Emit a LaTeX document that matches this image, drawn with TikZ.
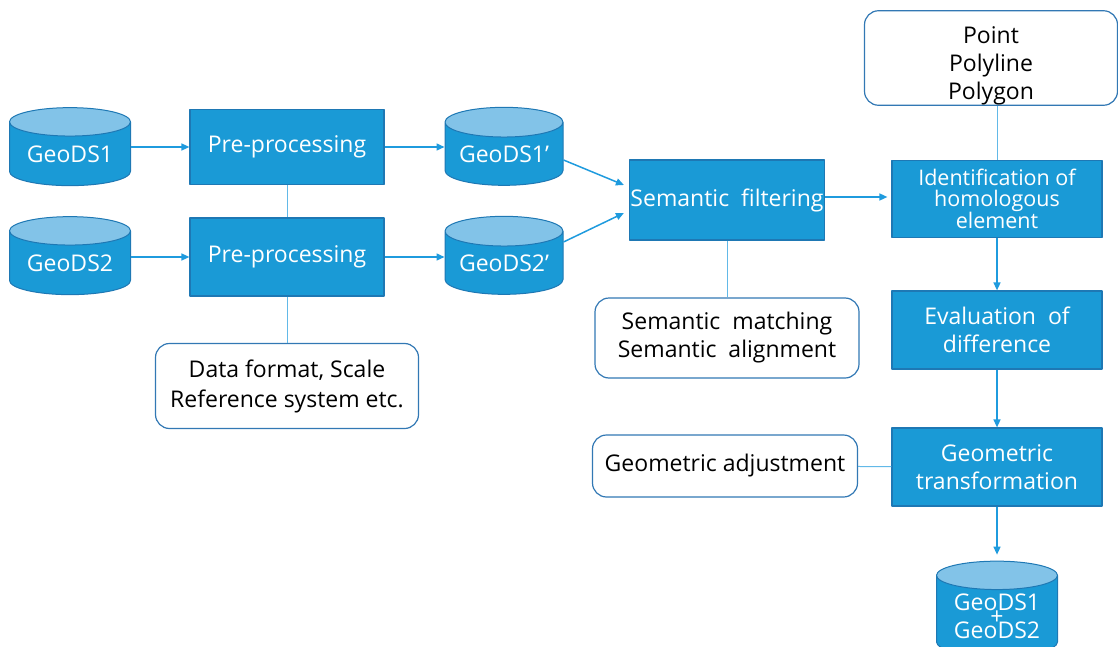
\documentclass[tikz,border=0pt]{standalone}
\usepackage{fontspec}
\setmainfont{Open Sans}
\usetikzlibrary{shapes.geometric,arrows.meta}
\definecolor{boxblue}{RGB}{26,154,214}
\definecolor{edgeblue}{RGB}{30,120,180}
\definecolor{topblue}{RGB}{130,195,232}
\definecolor{linkblue}{RGB}{31,155,222}
\definecolor{noteedge}{RGB}{50,120,180}
\begin{document}
\begin{tikzpicture}[x=1pt, y=-1pt, font=\fontsize{23}{28}\selectfont, line join=round, >={Triangle[length=8pt,width=7pt]}]
	\tikzset{
		proc/.style={draw=edgeblue, line width=1.2pt, fill=boxblue, text=white, minimum width=194pt, minimum height=77pt, align=center, inner sep=0pt},
		note/.style={draw=noteedge, line width=1.2pt, fill=white, rounded corners=14pt, align=center, inner sep=0pt},
		db/.style={cylinder, shape border rotate=90, aspect=0.33, draw=edgeblue, line width=1pt, cylinder uses custom fill, cylinder body fill=boxblue, cylinder end fill=topblue, text=white, minimum width=121pt, minimum height=78pt, inner sep=0pt, align=center},
		flow/.style={->, draw=linkblue, line width=1.5pt},
		link/.style={draw=linkblue!70, line width=1pt}
	}
	\useasboundingbox (0,0) rectangle (1118,647);
	% left part
	\node[db] (ds1) at (70,154) {GeoDS1};
	\node[db] (ds2) at (70,263) {GeoDS2};
	\node[proc, minimum height=75pt] (pre1) at (287,147) {Pre-processing};
	\node[proc, minimum height=78pt] (pre2) at (287,257) {Pre-processing};
	\node[note, minimum width=263pt, minimum height=85pt] (fmt) at (287,386) {Data format, Scale\\[2pt]Reference system etc.};
	\node[db, minimum width=118pt] (ds1p) at (504,154) {GeoDS1’};
	\node[db, minimum width=118pt] (ds2p) at (504,263) {GeoDS2’};
	% middle
	\node[proc, minimum width=195pt, minimum height=80pt] (sem) at (727,200) {Semantic\ \ filtering};
	\node[note, minimum width=264pt, minimum height=80pt] (match) at (727,338) {Semantic\ \ matching\\Semantic\ \ alignment};
	% right column
	\node[note, minimum width=253pt, minimum height=93pt] (geom) at (991,58) {\rule{0pt}{33pt}Point\\Polyline\\Polygon};
	\node[proc, minimum width=210pt, font=\fontsize{21.5}{21}\selectfont] (ident) at (997,199) {Identification of\\homologous\\element};
	\node[proc, minimum width=210pt, minimum height=78pt] (eval) at (997,330) {Evaluation\ \ of\\difference};
	\node[proc, minimum width=210pt, minimum height=78pt] (trans) at (997,467) {Geometric\\transformation};
	\node[note, minimum width=265pt, minimum height=62pt] (adj) at (725,466) {Geometric adjustment};
	\node[db, minimum height=95pt] (merged) at (997,616) {GeoDS1\\[-14pt]+\\[-14pt]GeoDS2};

	\draw[flow] (pre1.west -| ds1.east) -- (pre1.west);
	\draw[flow] (pre1.east) -- (pre1.east -| ds1p.west);
	\draw[flow] (pre2.west -| ds2.east) -- (pre2.west);
	\draw[flow] (pre2.east) -- (pre2.east -| ds2p.west);
	\draw[link] (pre1) -- (pre2);
	\draw[link] (pre2) -- (fmt);
	\draw[flow] ([yshift=-6pt]ds1p.east) -- ([xshift=-5pt,yshift=15pt]sem.west);
	\draw[flow] ([yshift=21pt]ds2p.east) -- ([xshift=-5pt,yshift=-13pt]sem.west);
	\draw[flow, shorten >=4pt] ([yshift=3pt]sem.east) -- ([yshift=3pt]sem.east -| ident.west);
	\draw[link] (sem) -- (match);
	\draw[link] (ident.north) -- (ident.north |- geom.south);
	\draw[flow] (ident) -- (eval);
	\draw[flow] (eval) -- (trans);
	\draw[link] (adj) -- (trans);
	\draw[flow, shorten >=6pt] (trans) -- (merged.top);
\end{tikzpicture}
\end{document}
